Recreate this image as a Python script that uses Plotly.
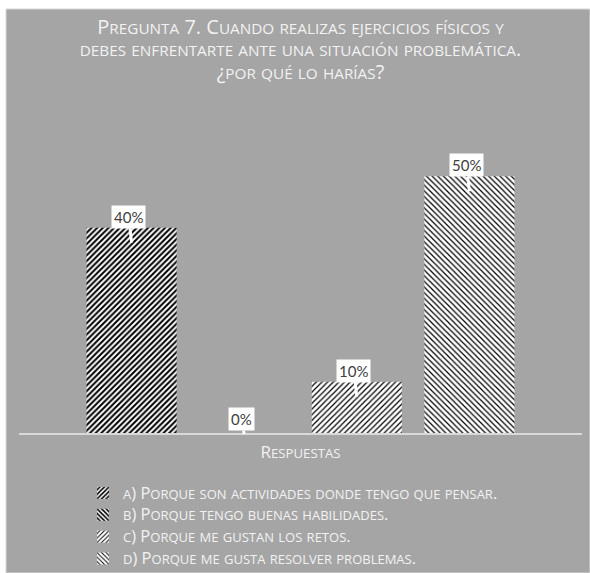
import plotly.graph_objects as go

# Survey answers and the share of respondents for each one
categorias = ["a)", "b)", "c)", "d)"]
respuestas = [
    "a) Porque son actividades donde tengo que pensar.",
    "b) Porque tengo buenas habilidades.",
    "c) Porque me gustan los retos.",
    "d) Porque me gusta resolver problemas.",
]
porcentajes = [0.40, 0.0, 0.10, 0.50]
etiquetas = ["40%", "0%", "10%", "50%"]
titulo = [
    "Pregunta 7. Cuando realizas ejercicios físicos y",
    "debes enfrentarte ante una situación problemática.",
    "¿por qué lo harías?",
]
titulo_eje = "Respuestas"

# Hatch styles per answer
tramas = [
    dict(shape="/", size=4, solidity=0.5),
    dict(shape="\\", size=4, solidity=0.5),
    dict(shape="/", size=4, solidity=0.3),
    dict(shape="\\", size=4, solidity=0.3),
]

W, H = 590, 573
ML, MR, MT, MB = 19, 8, 125, 0
BASE = 433          # pixel row of the category axis
GRIS = "#a5a5a5"
TEXTO = "#f2f2f2"
FUENTE = "Open Sans"

pw = W - ML - MR
ph = H - MT - MB


def py(pixel):
    """Pixel row -> paper y."""
    return (H - MB - pixel) / ph


def px(pixel):
    """Pixel column -> paper x."""
    return (pixel - ML) / pw


def versalitas(texto, grande, chica):
    """Small caps: lowercase letters become smaller capitals."""
    trozos, actual, es_chica = [], "", None
    for c in texto:
        chica_c = c.islower()
        if es_chica is not None and chica_c != es_chica:
            trozos.append((actual, es_chica))
            actual = ""
        actual += c.upper() if chica_c else c
        es_chica = chica_c
    if actual:
        trozos.append((actual, es_chica))
    return "".join(
        f'<span style="font-size:{chica if s else grande}px">{t}</span>' for t, s in trozos
    )


fig = go.Figure()
for cat, resp, val, tr in zip(categorias, respuestas, porcentajes, tramas):
    fig.add_trace(go.Bar(
        x=[cat], y=[val], name=versalitas(resp, 16.5, 13), width=0.8,
        marker=dict(
            color="white",
            line=dict(width=0),
            pattern=dict(fgcolor="black", bgcolor="white", fillmode="replace", **tr),
        ),
        hoverinfo="skip",
    ))

# Callout labels above each bar
for cat, val, txt in zip(categorias, porcentajes, etiquetas):
    fig.add_annotation(
        x=cat, y=val, text=txt,
        showarrow=True, arrowhead=0, arrowwidth=3, arrowcolor="white",
        ax=-3, ay=-26 if val > 0 else -15,
        yshift=-15 if val > 0 else -1,
        bgcolor="white", borderpad=2,
        font=dict(family="Lato", size=15, color="#404040"),
    )

# Grey card with a thin white frame around it
fig.add_shape(
    type="rect", xref="paper", yref="paper", layer="below",
    x0=px(6), x1=px(W), y0=py(H), y1=py(9),
    fillcolor=GRIS, line=dict(color="#d9d9d9", width=1),
)

fig.update_layout(
    width=W, height=H,
    margin=dict(l=ML, r=MR, t=MT, b=MB, autoexpand=False),
    paper_bgcolor="white",
    plot_bgcolor="rgba(0,0,0,0)",
    barmode="overlay",
    font=dict(family=FUENTE, color=TEXTO),
    title=dict(
        text="<br>".join(versalitas(t, 20, 15.3) for t in titulo),
        x=0.5, xanchor="center", xref="paper",
        y=1 - 34 / H, yanchor="top",
        font=dict(family=FUENTE, size=17.3, color=TEXTO),
    ),
    xaxis=dict(
        range=[-1, 4], showticklabels=False, ticks="",
        showgrid=False, zeroline=False,
        showline=True, linecolor="#d9d9d9", linewidth=2,
        title=dict(text=versalitas(titulo_eje, 17, 13.2), standoff=13,
                   font=dict(family=FUENTE, size=15, color=TEXTO)),
    ),
    yaxis=dict(range=[0, 0.6], visible=False, domain=[py(BASE), 1]),
    showlegend=True,
    legend=dict(
        orientation="v",
        x=px(83), xanchor="left", y=py(477), yanchor="top",
        bgcolor="rgba(0,0,0,0)", tracegroupgap=0, itemwidth=30,
        font=dict(family=FUENTE, size=14.5, color=TEXTO),
    ),
)

fig.write_html("out.html")
